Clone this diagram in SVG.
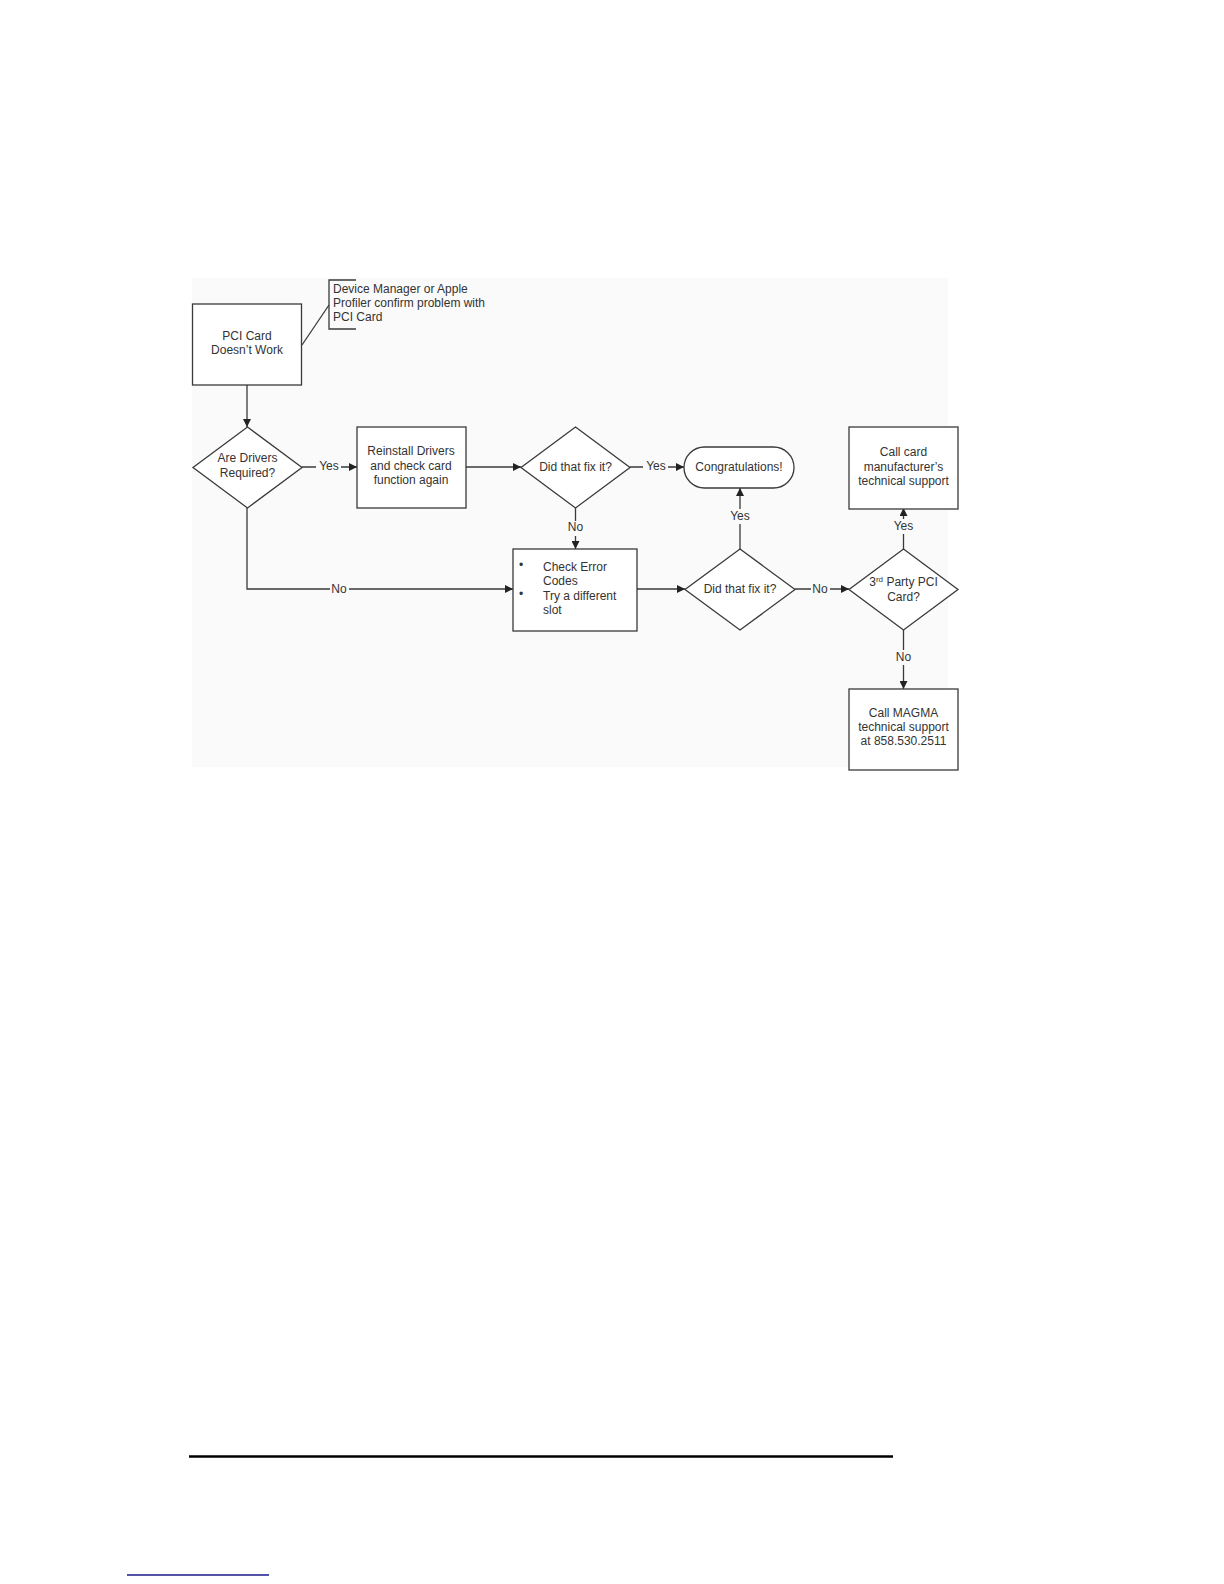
<svg xmlns="http://www.w3.org/2000/svg" width="1224" height="1584" viewBox="0 0 1224 1584">
<defs>
<style>
.shape{fill:#ffffff;stroke:#3a3a3a;stroke-width:1.3}
.line{fill:none;stroke:#3a3a3a;stroke-width:1.3}
.t{font-family:"Liberation Sans",Arial,sans-serif;font-size:12px;fill:#333333;text-anchor:middle}
.tl{font-family:"Liberation Sans",Arial,sans-serif;font-size:12px;fill:#333333;text-anchor:start}
.lbl{fill:#fafafa}
</style>
<marker id="arrow" viewBox="0 0 10 10" refX="10" refY="5" markerWidth="8" markerHeight="8" markerUnits="userSpaceOnUse" orient="auto">
<path d="M0,0 L10,5 L0,10 z" fill="#222222"/>
</marker>
</defs>
<rect x="0" y="0" width="1224" height="1584" fill="#ffffff"/>
<rect x="192" y="278" width="756" height="489" fill="#fafafa"/>

<g id="connectors">
<line class="line" x1="247" y1="385" x2="247" y2="427" marker-end="url(#arrow)"/>
<line class="line" x1="302" y1="467" x2="357" y2="467" marker-end="url(#arrow)"/>
<line class="line" x1="466" y1="467" x2="521" y2="467" marker-end="url(#arrow)"/>
<line class="line" x1="630" y1="467" x2="684" y2="467" marker-end="url(#arrow)"/>
<line class="line" x1="575.5" y1="508" x2="575.5" y2="549" marker-end="url(#arrow)"/>
<polyline class="line" points="247,508 247,589 513,589" marker-end="url(#arrow)"/>
<line class="line" x1="637" y1="589" x2="685" y2="589" marker-end="url(#arrow)"/>
<line class="line" x1="740" y1="549" x2="740" y2="488" marker-end="url(#arrow)"/>
<line class="line" x1="795" y1="589" x2="849" y2="589" marker-end="url(#arrow)"/>
<line class="line" x1="903.5" y1="549" x2="903.5" y2="508" marker-end="url(#arrow)"/>
<line class="line" x1="903.5" y1="630" x2="903.5" y2="689" marker-end="url(#arrow)"/>
<line class="line" x1="302" y1="345" x2="329" y2="305"/>
<g id="labels">
<rect class="lbl" x="316" y="459" width="25" height="15"/><text class="t" x="329" y="470">Yes</text>
<rect class="lbl" x="643" y="459" width="25" height="15"/><text class="t" x="656" y="470">Yes</text>
<rect class="lbl" x="566" y="521" width="19" height="15"/><text class="t" x="575.5" y="531">No</text>
<rect class="lbl" x="330" y="582" width="19" height="15"/><text class="t" x="339" y="593">No</text>
<rect class="lbl" x="727" y="509" width="25" height="15"/><text class="t" x="740" y="520">Yes</text>
<rect class="lbl" x="811" y="582" width="19" height="15"/><text class="t" x="820" y="593">No</text>
<rect class="lbl" x="891" y="519" width="25" height="15"/><text class="t" x="903.5" y="530">Yes</text>
<rect class="lbl" x="894" y="650" width="19" height="15"/><text class="t" x="903.5" y="661">No</text>
</g>
</g>

<g id="annotation">
<polyline class="line" points="356,280 329,280 329,329 356,329"/>
<text class="tl" x="333" y="293">Device Manager or Apple</text>
<text class="tl" x="333" y="307">Profiler confirm problem with</text>
<text class="tl" x="333" y="321">PCI Card</text>
</g>

<g id="start">
<rect class="shape" x="192.5" y="304" width="109" height="81"/>
<text class="t" x="247" y="340">PCI Card</text>
<text class="t" x="247" y="354">Doesn’t Work</text>
</g>

<g id="drivers">
<polygon class="shape" points="247.5,427 302,467.5 247.5,508 193,467.5"/>
<text class="t" x="247.5" y="462">Are Drivers</text>
<text class="t" x="247.5" y="477">Required?</text>
</g>

<g id="reinstall">
<rect class="shape" x="357" y="427" width="109" height="81"/>
<text class="t" x="411" y="455">Reinstall Drivers</text>
<text class="t" x="411" y="470">and check card</text>
<text class="t" x="411" y="484">function again</text>
</g>

<g id="fix1">
<polygon class="shape" points="575.5,427 630,467.5 575.5,508 521,467.5"/>
<text class="t" x="575.5" y="471">Did that fix it?</text>
</g>

<g id="congrats">
<rect class="shape" x="684" y="447" width="110" height="41" rx="20.5" ry="20.5"/>
<text class="t" x="739" y="471">Congratulations!</text>
</g>

<g id="check">
<rect class="shape" x="513" y="549" width="124" height="82"/>
<text class="tl" x="519" y="569">•</text>
<text class="tl" x="519" y="598">•</text>
<text class="tl" x="543" y="571">Check Error</text>
<text class="tl" x="543" y="585">Codes</text>
<text class="tl" x="543" y="600">Try a different</text>
<text class="tl" x="543" y="614">slot</text>
</g>

<g id="fix2">
<polygon class="shape" points="740,549 795,589.5 740,630 685,589.5"/>
<text class="t" x="740" y="593">Did that fix it?</text>
</g>

<g id="thirdparty">
<polygon class="shape" points="903.5,549 958,589.5 903.5,630 849,589.5"/>
<text class="t" x="903.5" y="586">3<tspan font-size="8" dy="-4">rd</tspan><tspan dy="4"> Party PCI</tspan></text>
<text class="t" x="903.5" y="601">Card?</text>
</g>

<g id="manufacturer">
<rect class="shape" x="849" y="427" width="109" height="82"/>
<text class="t" x="903.5" y="456">Call card</text>
<text class="t" x="903.5" y="471">manufacturer’s</text>
<text class="t" x="903.5" y="485">technical support</text>
</g>

<g id="magma">
<rect class="shape" x="849" y="689" width="109" height="81"/>
<text class="t" x="903.5" y="717">Call MAGMA</text>
<text class="t" x="903.5" y="731">technical support</text>
<text class="t" x="903.5" y="745">at 858.530.2511</text>
</g>

<line x1="189" y1="1456.5" x2="893" y2="1456.5" stroke="#000000" stroke-width="2.5"/>
<line x1="127" y1="1575" x2="269" y2="1575" stroke="#1a1a8a" stroke-width="1.3"/>
</svg>
